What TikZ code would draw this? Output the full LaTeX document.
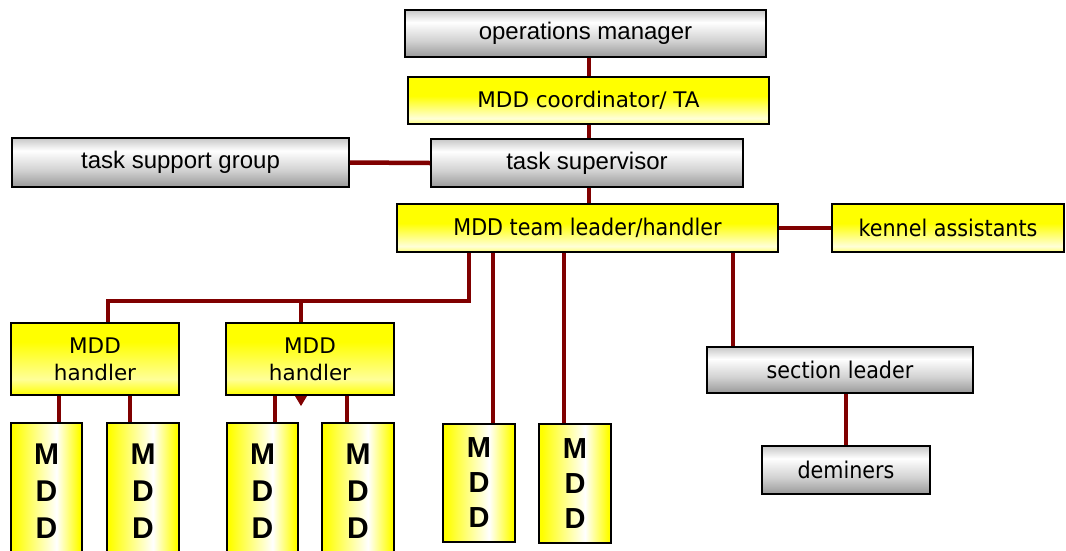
\documentclass[tikz,border=0pt]{standalone}
\usepackage{fontspec}
\setmainfont{Liberation Sans}
\newfontfamily\tah{DejaVu Sans}
\newfontfamily\tahn[FakeStretch=0.9]{DejaVu Sans}
\definecolor{connred}{HTML}{800000}
\pgfdeclareverticalshading{grayshade}{100bp}{color(0bp)=(black!40); color(25bp)=(black!40); color(42bp)=(black!18); color(62bp)=(white); color(75bp)=(black!22); color(100bp)=(black!22)}
\pgfdeclareverticalshading{yelA}{100bp}{color(0bp)=(yellow!55); color(25bp)=(yellow!55); color(31bp)=(yellow!15); color(55bp)=(yellow); color(100bp)=(yellow)}
\pgfdeclareverticalshading{yelH}{100bp}{color(0bp)=(yellow); color(25bp)=(yellow); color(36bp)=(yellow!40); color(62bp)=(yellow); color(100bp)=(yellow)}
\pgfdeclarehorizontalshading{mddshade}{100bp}{color(0bp)=(yellow); color(27bp)=(yellow); color(57bp)=(white); color(73bp)=(yellow); color(100bp)=(yellow)}
\begin{document}
\begin{tikzpicture}[x=1pt,y=-1pt,
  box/.style={draw=black, line width=1.6pt, inner sep=0pt, anchor=center},
  graybox/.style={box, shading=grayshade, font=\fontsize{24}{28}\selectfont},
  graycond/.style={box, shading=grayshade, font=\tahn\fontsize{23}{28}\selectfont},
  yelbox/.style={box, shading=yelA, font=\tah\fontsize{21.5}{27}\selectfont},
  yelcond/.style={box, shading=yelA, font=\tahn\fontsize{23}{28}\selectfont},
  hbox/.style={box, shading=yelH, align=center, minimum width=168pt, minimum height=72pt, font=\tah\fontsize{21.5}{27}\selectfont},
  mddbox/.style={box, shading=mddshade, align=center, font=\bfseries\fontsize{30}{37}\selectfont},
  mddsmall/.style={box, shading=mddshade, align=center, font=\bfseries\fontsize{29}{35}\selectfont},
  conn/.style={draw=connred, line width=4.5pt}
]
\useasboundingbox (0,0) rectangle (1066,550);

% nodes
\node[graybox, minimum width=361pt, minimum height=47pt] (ops) at (585.5,33.5) {operations manager};
\node[yelbox, minimum width=361pt, minimum height=47pt] (coord) at (588.5,100.5) {MDD coordinator/ TA};
\node[graybox, minimum width=312pt, minimum height=48pt] (sup) at (587,163) {task supervisor};
\node[graybox, minimum width=337pt, minimum height=49pt] (tsg) at (180.5,162.5) {task support group};
\node[yelcond, minimum width=381pt, minimum height=48pt] (tl) at (587.5,228) {MDD team leader/handler};
\node[yelcond, minimum width=232pt, minimum height=48pt] (ka) at (948,228) {kennel assistants};
\node[hbox] (h1) at (95,359) {MDD\\handler};
\node[hbox] (h2) at (310,359) {MDD\\handler};
\node[mddbox, minimum width=71pt, minimum height=137pt] (m1) at (46.5,491.5) {M\\D\\D};
\node[mddbox, minimum width=72pt, minimum height=137pt] (m2) at (143,491.5) {M\\D\\D};
\node[mddbox, minimum width=71pt, minimum height=137pt] (m3) at (262.5,491.5) {M\\D\\D};
\node[mddbox, minimum width=72pt, minimum height=137pt] (m4) at (358,491.5) {M\\D\\D};
\node[mddsmall, minimum width=72pt, minimum height=118pt] (m5) at (479,483) {M\\D\\D};
\node[mddsmall, minimum width=72pt, minimum height=119pt] (m6) at (575,483.5) {M\\D\\D};
\node[graycond, minimum width=266pt, minimum height=46pt] (sec) at (840,370) {section leader};
\node[graycond, minimum width=168pt, minimum height=48pt] (dem) at (846,470) {deminers};

% column coordinates
\coordinate (xc) at (589,0);
\coordinate (e1) at (469,301);
\coordinate (e2) at (108,301);
\coordinate (e3) at (301,301);
\coordinate (x59) at (59,0);
\coordinate (x130) at (130,0);
\coordinate (x275) at (275,0);
\coordinate (x347) at (347,0);
\coordinate (x493) at (493,0);
\coordinate (x564) at (564,0);
\coordinate (x733) at (733,0);
\coordinate (x846) at (846,0);

% connectors
\draw[conn] (xc |- ops.south) -- (xc |- coord.north);
\draw[conn] (xc |- coord.south) -- (xc |- sup.north);
\draw[conn] (xc |- sup.south) -- (xc |- tl.north);
\draw[conn] (tsg.east) -- (sup.west);
\draw[conn] (tl.east) -- (ka.west);
\draw[conn] (e1 |- tl.south) -- (e1) -- (e2) -- (e2 |- h1.north);
\draw[conn] (e3) -- (e3 |- h2.north);
\draw[conn] (x59 |- h1.south) -- (x59 |- m1.north);
\draw[conn] (x130 |- h1.south) -- (x130 |- m2.north);
\draw[conn] (x275 |- h2.south) -- (x275 |- m3.north);
\draw[conn] (x347 |- h2.south) -- (x347 |- m4.north);
\draw[conn] (x493 |- tl.south) -- (x493 |- m5.north);
\draw[conn] (x564 |- tl.south) -- (x564 |- m6.north);
\draw[conn] (x733 |- tl.south) -- (x733 |- sec.north);
\draw[conn] (x846 |- sec.south) -- (x846 |- dem.north);

% small arrowhead under second handler
\fill[connred] (295,396) -- (307,396) -- (301,406) -- cycle;
\end{tikzpicture}
\end{document}
